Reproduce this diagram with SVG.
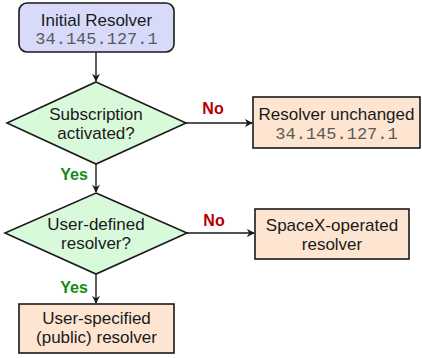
<svg xmlns="http://www.w3.org/2000/svg" width="422" height="358" viewBox="0 0 422 358">
  <style>
    .box { stroke: #1a1a1a; stroke-width: 1.6; }
    .start { fill: #d8dafa; }
    .end { fill: #fde5d1; }
    .dec { fill: #d9f9db; stroke: #1a1a1a; stroke-width: 1.6; }
    .t { font-family: "Liberation Sans", Arial, sans-serif; font-size: 17px; fill: #1a1a1a; text-anchor: middle; }
    .m { font-family: "Liberation Mono", "Courier New", monospace; font-size: 17px; fill: #5a5a5a; text-anchor: middle; }
    .no { font-family: "Liberation Sans", Arial, sans-serif; font-size: 16px; font-weight: bold; fill: #b30000; text-anchor: middle; }
    .yes { font-family: "Liberation Sans", Arial, sans-serif; font-size: 16px; font-weight: bold; fill: #138a13; text-anchor: middle; }
    .edge { stroke: #1a1a1a; stroke-width: 1.4; fill: none; marker-end: url(#arr); }
  </style>
  <defs>
    <marker id="arr" viewBox="0 0 10 10" refX="9" refY="5" markerWidth="8" markerHeight="8" markerUnits="userSpaceOnUse" orient="auto">
      <path d="M0,0 L10,5 L0,10 L3,5 Z" fill="#1a1a1a"/>
    </marker>
  </defs>

  <g id="connectors">
    <line class="edge" x1="96" y1="52" x2="96" y2="81"/>
    <line class="edge" x1="186" y1="123" x2="252" y2="123"/>
    <line class="edge" x1="96" y1="164" x2="96" y2="192"/>
    <line class="edge" x1="187" y1="233" x2="254" y2="233"/>
    <line class="edge" x1="96" y1="274" x2="96" y2="303"/>
    <text class="no" x="213" y="114">No</text>
    <text class="yes" x="74" y="180">Yes</text>
    <text class="no" x="214" y="226">No</text>
    <text class="yes" x="74" y="293">Yes</text>
  </g>

  <g id="initial">
    <rect class="box start" x="19" y="3" width="155" height="49" rx="8"/>
    <text class="t" x="96.5" y="26">Initial Resolver</text>
    <text class="m" x="96.5" y="44">34.145.127.1</text>
  </g>

  <g id="subscription">
    <polygon class="dec" points="96,82 186,123 96,164 7,123"/>
    <text class="t" x="96" y="120">Subscription</text>
    <text class="t" x="96" y="139">activated?</text>
  </g>

  <g id="unchanged">
    <rect class="box end" x="253" y="97" width="167" height="51"/>
    <text class="t" x="336.5" y="120">Resolver unchanged</text>
    <text class="m" x="336.5" y="139">34.145.127.1</text>
  </g>

  <g id="userdefined">
    <polygon class="dec" points="96,193 187,233 96,274 5,233"/>
    <text class="t" x="96" y="230">User-defined</text>
    <text class="t" x="96" y="249">resolver?</text>
  </g>

  <g id="spacex">
    <rect class="box end" x="255" y="209" width="154" height="50"/>
    <text class="t" x="332" y="231">SpaceX-operated</text>
    <text class="t" x="332" y="250">resolver</text>
  </g>

  <g id="userspecified">
    <rect class="box end" x="19" y="304" width="155" height="49"/>
    <text class="t" x="96.5" y="324">User-specified</text>
    <text class="t" x="96.5" y="343">(public) resolver</text>
  </g>
</svg>
